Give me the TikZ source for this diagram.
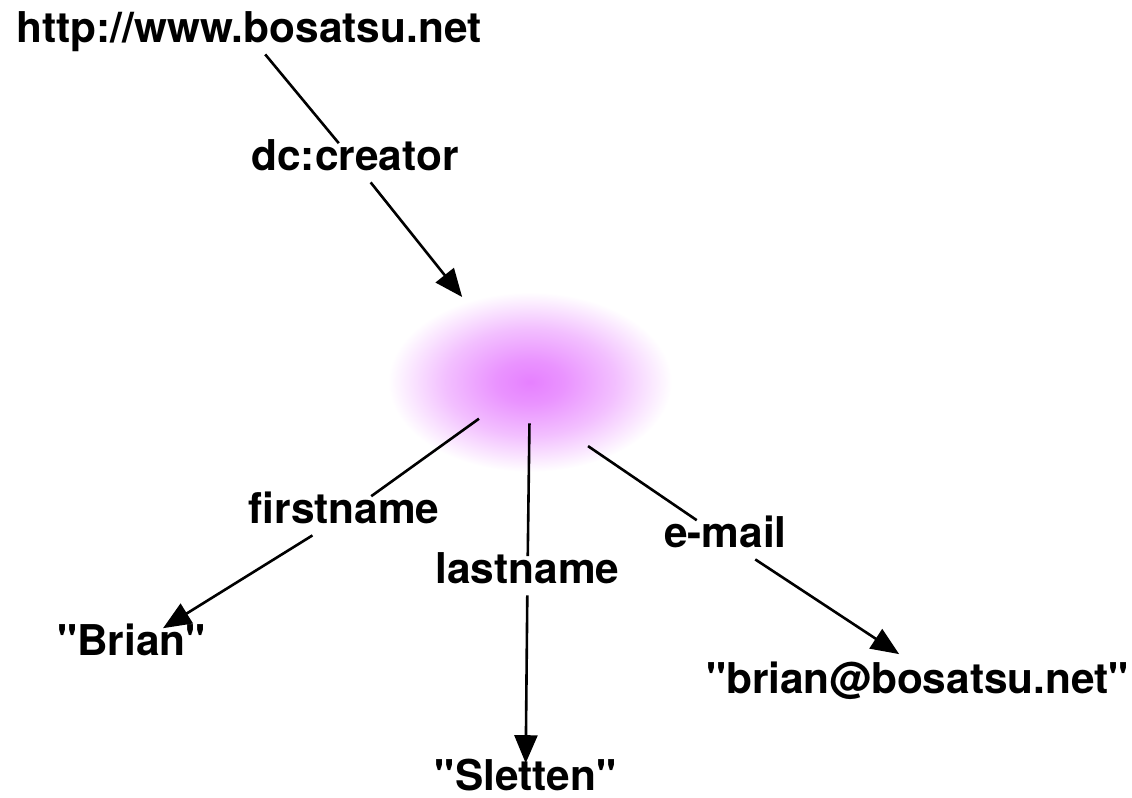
\documentclass[tikz,border=0pt]{standalone}
\usepackage{fontspec}
\setmainfont{TeX Gyre Heros}[Ligatures={TeXOff,CommonOff}]
\usetikzlibrary{arrows.meta,shapes.geometric}

\definecolor{blobpink}{RGB}{230,128,255}
% soft blank node, fades out to the rim (rim = 25bp)
\pgfdeclareradialshading{blobfade}{\pgfpoint{0bp}{0bp}}{%
  color(0bp)=(blobpink); color(6bp)=(blobpink!85!white);
  color(15bp)=(blobpink!50!white); color(25bp)=(white); color(50bp)=(white)}

\begin{document}
\begin{tikzpicture}[x=0.5pt, y=-0.5pt,
    lbl/.style={font=\bfseries\fontsize{21.2}{25}\selectfont,
        text height=0.72em, text depth=0pt, inner sep=6pt, anchor=base},
    link/.style={line width=1.3pt},
    arr/.style={link, -{Triangle[length=14pt, width=11.5pt]}},
    hub/.style={ellipse, minimum width=110pt, minimum height=41pt, inner sep=0pt}]

\useasboundingbox (0,0) rectangle (1132,798);

\def\bx{530} % blank node centre
\def\by{382}

% subject and predicate
\node[lbl] (page) at (249,42) {http://www.bosatsu.net};
\node[lbl] (creator) at (355,170) {dc:creator};

% blank node
\shade[shading=blobfade] (\bx,\by) ellipse [x radius=71pt, y radius=45pt];
\node[hub] (anon) at (\bx,\by) {};

% properties
\node[lbl] (first) at (344,523) {firstname};
\node[lbl] (last) at (527.5,583) {lastname};
\node[lbl] (mail) at (725.5,547) {e-mail};

% literals
\node[lbl] (brian) at (131.5,655) {"Brian"};
\node[lbl] (sletten) at (525.5,790) {"Sletten"};
\node[lbl] (email) at (917.5,693) {"brian@bosatsu.net"};

% edges
\draw[link] (page) -- (creator);
\draw[arr, shorten >=29pt] (creator) -- (anon);
\draw[link] (anon) -- (first);
\draw[arr] (first) -- (brian);
\draw[link] (anon) -- (last);
\draw[arr] (last) -- (sletten);
\draw[link, shorten <=21pt] (anon.-60) -- (mail);
\draw[arr, shorten >=11pt] (mail) -- (email.north);

\end{tikzpicture}
\end{document}
